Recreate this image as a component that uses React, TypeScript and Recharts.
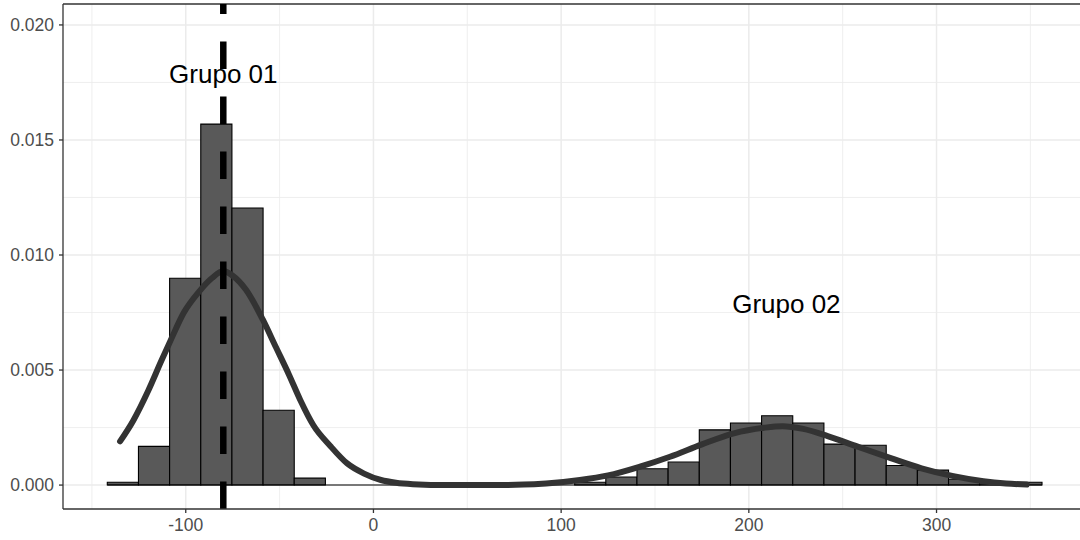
import React from "react";
import {
  ComposedChart,
  Line,
  Scatter,
  XAxis,
  YAxis,
  CartesianGrid,
  ReferenceArea,
  ReferenceLine,
} from "recharts";

// histogram bin edges (30 bins) and densities
const binEdges = [
  -141.8, -125.2, -108.6, -92.0, -75.4, -58.8, -42.2, -25.6, -9.0, 7.6, 24.2,
  40.8, 57.4, 74.0, 90.6, 107.2, 123.8, 140.4, 157.0, 173.6, 190.2, 206.8,
  223.4, 240.0, 256.6, 273.2, 289.8, 306.4, 323.0, 339.6, 356.2,
];
const binDensity = [
  0.00012, 0.00168, 0.00899, 0.01569, 0.01204, 0.00325, 0.0003, 0, 0, 0, 0, 0,
  0, 0, 0, 0.00012, 0.00035, 0.00071, 0.001, 0.0024, 0.0027, 0.00301, 0.0027,
  0.00178, 0.00173, 0.00085, 0.00065, 0.00025, 0.00012, 0.00012,
];

// mixture density curve
const curveX = [
  -135, -128, -120, -113, -108, -101, -93, -86, -80, -75, -68, -59, -52, -45,
  -39, -32, -23, -14, -5, 4, 12, 21, 40, 60, 80, 92, 110, 125, 142, 158, 175,
  192, 208, 218, 229, 242, 258, 276, 292, 309, 325, 337, 348,
];
const curveY = [
  0.0019, 0.0028, 0.0041, 0.0054, 0.0063, 0.0075, 0.0084, 0.009, 0.0093,
  0.0091, 0.0085, 0.0072, 0.006, 0.0048, 0.0037, 0.0026, 0.0017, 0.00094,
  0.0005, 0.00022, 0.0001, 0.00004, 0, 0, 0.00002, 0.00007, 0.00022, 0.00042,
  0.0008, 0.00123, 0.00177, 0.00225, 0.00249, 0.00256, 0.00244, 0.00213,
  0.00167, 0.00116, 0.00073, 0.00039, 0.00017, 0.00007, 0.00002,
];

const groupMean = -80;
const labelX = [-80, 220];
const labelY = [0.018, 0.008];
const labelText = ["Grupo 01", "Grupo 02"];

const xTicks = [-100, 0, 100, 200, 300];
const xMinor = [-150, -50, 50, 150, 250, 350];
const yTicks = [0, 0.005, 0.01, 0.015, 0.02];
const yMinor = [0.0025, 0.0075, 0.0125, 0.0175];

const xDomain: [number, number] = [-165.4, 382.3];
const yDomain: [number, number] = [-0.00104, 0.02091];

const curveData = curveX.map((x, i) => ({ x, y: curveY[i] }));
const labelData = labelX.map((x, i) => ({ x, y: labelY[i], text: labelText[i] }));

const tickStyle = { fill: "#4d4d4d", fontSize: 17.5, fontFamily: "Liberation Sans, Arial, sans-serif" };

const LabelShape = (props: any) => (
  <text
    x={props.cx}
    y={props.cy}
    dy="0.45em"
    textAnchor="middle"
    fontSize={26}
    fontFamily="Liberation Sans, Arial, sans-serif"
    fill="#000000"
  >
    {props.payload.text}
  </text>
);

export default function App() {
  return (
    <div style={{ position: "absolute", left: 0, top: 0, width: 1080, height: 540, overflow: "hidden", background: "#fff" }}>
      <ComposedChart width={1091} height={540} margin={{ top: 4, right: 0, bottom: 0, left: 0 }}>
        <CartesianGrid
          stroke="#ebebeb"
          strokeWidth={0.8}
          horizontalValues={yMinor}
          verticalValues={xMinor}
        />
        <CartesianGrid stroke="#ebebeb" strokeWidth={1.5} horizontalValues={yTicks} verticalValues={xTicks} />
        <XAxis
          dataKey="x"
          type="number"
          domain={xDomain}
          allowDataOverflow
          ticks={xTicks}
          height={31}
          tickSize={4}
          tickMargin={6}
          axisLine={{ stroke: "#333333", strokeWidth: 1.3 }}
          tickLine={{ stroke: "#333333", strokeWidth: 1.3 }}
          tick={tickStyle}
        />
        <YAxis
          dataKey="y"
          type="number"
          domain={yDomain}
          allowDataOverflow
          ticks={yTicks}
          width={63}
          tickSize={4}
          tickMargin={5}
          tickFormatter={(v: number) => v.toFixed(3)}
          axisLine={{ stroke: "#333333", strokeWidth: 1.3 }}
          tickLine={{ stroke: "#333333", strokeWidth: 1.3 }}
          tick={tickStyle}
        />
        <ReferenceLine y={yDomain[1]} stroke="#333333" strokeWidth={1.3} ifOverflow="visible" />
        {binDensity.map((d, i) =>
          d > 0 ? (
            <ReferenceArea
              key={i}
              x1={binEdges[i]}
              x2={binEdges[i + 1]}
              y1={0}
              y2={d}
              fill="#595959"
              fillOpacity={1}
              stroke="#000000"
              strokeWidth={1.1}
              ifOverflow="visible"
            />
          ) : null
        )}
        <ReferenceLine
          segment={[
            { x: binEdges[0], y: 0 },
            { x: binEdges[binEdges.length - 1], y: 0 },
          ]}
          stroke="#000000"
          strokeWidth={1.1}
          ifOverflow="visible"
        />
        <Line
          data={curveData}
          dataKey="y"
          type="monotone"
          stroke="#333333"
          strokeWidth={6}
          strokeLinecap="round"
          strokeLinejoin="round"
          dot={false}
          activeDot={false}
          isAnimationActive={false}
        />
        <ReferenceLine
          segment={[
            { x: groupMean, y: yDomain[0] },
            { x: groupMean, y: yDomain[1] },
          ]}
          stroke="#000000"
          strokeWidth={6.5}
          strokeDasharray="27.5 27.5"
          ifOverflow="visible"
        />
        <Scatter data={labelData} dataKey="y" shape={LabelShape} isAnimationActive={false} />
      </ComposedChart>
    </div>
  );
}
